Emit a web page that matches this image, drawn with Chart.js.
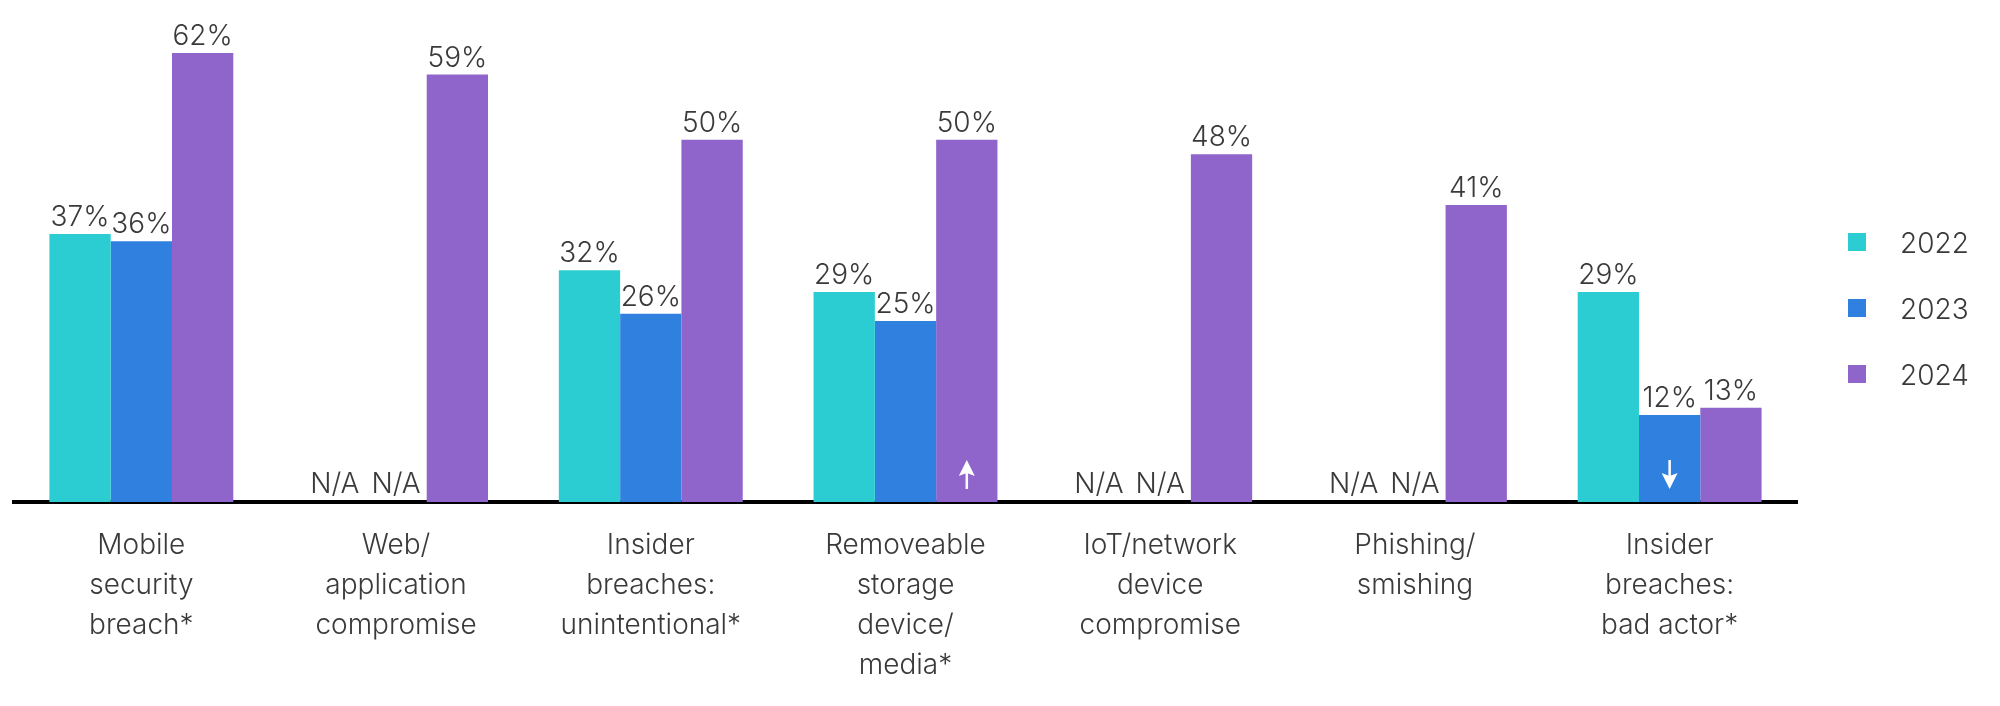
<!DOCTYPE html>
<html>
<head>
<meta charset="utf-8">
<script src="https://cdn.jsdelivr.net/npm/chart.js@4.4.1/dist/chart.umd.min.js"></script>
<style>
  html, body { margin: 0; padding: 0; background: #ffffff; }
  #wrap { width: 2000px; height: 706px; position: relative; }
</style>
</head>
<body>
<div id="wrap"><canvas id="c" width="2000" height="706"></canvas></div>
<script>
const categories = [
  ["Mobile", "security", "breach*"],
  ["Web/", "application", "compromise"],
  ["Insider", "breaches:", "unintentional*"],
  ["Removeable", "storage", "device/", "media*"],
  ["IoT/network", "device", "compromise"],
  ["Phishing/", "smishing"],
  ["Insider", "breaches:", "bad actor*"]
];
const seriesNames = ["2022", "2023", "2024"];
const values2022 = [37, null, 32, 29, null, null, 29];
const values2023 = [36, null, 26, 25, null, null, 12];
const values2024 = [62, 59, 50, 50, 48, 41, 13];
const seriesColors = ["#2ccdd2", "#3080e0", "#9065cb"];
// trend arrows: [categoryIndex, seriesIndex, direction]
const trendMarks = [[3, 2, "up"], [6, 1, "down"]];

const FONT = "Inter, 'Noto Sans', sans-serif";
const WEIGHT = "300";
const TEXT = "#3a3a3a";

const labelPlugin = {
  id: "valueLabels",
  afterDatasetsDraw(chart) {
    const ctx = chart.ctx;
    const base = chart.scales.y.getPixelForValue(0);
    ctx.save();
    ctx.font = WEIGHT + " 28px " + FONT;
    ctx.fillStyle = TEXT;
    ctx.textAlign = "center";
    ctx.textBaseline = "alphabetic";
    chart.data.datasets.forEach((ds, di) => {
      const meta = chart.getDatasetMeta(di);
      const ref = chart.getDatasetMeta(2).data[0];
      meta.data.forEach((bar, i) => {
        const v = ds.data[i];
        if (v === null || v === undefined) {
          const x = chart.scales.x.getPixelForValue(i) + (di - 1) * ref.width;
          ctx.fillText("N/A", x, base - 9);
        } else {
          ctx.fillText(v + "%", bar.x, bar.y - 8);
        }
      });
    });
    // arrows
    ctx.fillStyle = "#ffffff";
    ctx.strokeStyle = "#ffffff";
    ctx.lineWidth = 2.5;
    trendMarks.forEach(([ci, si, dir]) => {
      const bar = chart.getDatasetMeta(si).data[ci];
      const x = bar.x;
      const top = base - 42, bottom = base - 13;
      ctx.beginPath();
      if (dir === "up") {
        ctx.moveTo(x, bottom); ctx.lineTo(x, top + 10);
        ctx.stroke();
        ctx.beginPath();
        ctx.moveTo(x, top); ctx.lineTo(x - 8, top + 16); ctx.lineTo(x, top + 13); ctx.lineTo(x + 8, top + 16); ctx.closePath();
        ctx.fill();
      } else {
        ctx.moveTo(x, top); ctx.lineTo(x, bottom - 10);
        ctx.stroke();
        ctx.beginPath();
        ctx.moveTo(x, bottom); ctx.lineTo(x - 8, bottom - 16); ctx.lineTo(x, bottom - 13); ctx.lineTo(x + 8, bottom - 16); ctx.closePath();
        ctx.fill();
      }
    });
    ctx.restore();
  }
};

const legendPlugin = {
  id: "sideLegend",
  afterDraw(chart) {
    const ctx = chart.ctx;
    ctx.save();
    ctx.font = WEIGHT + " 28px " + FONT;
    ctx.textAlign = "left";
    ctx.textBaseline = "alphabetic";
    chart.data.datasets.forEach((ds, i) => {
      const cy = 242 + i * 66;
      ctx.fillStyle = ds.backgroundColor;
      ctx.fillRect(1848, cy - 9, 18, 18);
      ctx.fillStyle = TEXT;
      ctx.fillText(ds.label, 1900, cy + 11);
    });
    ctx.restore();
  }
};

new Chart(document.getElementById("c"), {
  type: "bar",
  data: {
    labels: categories,
    datasets: [
      { label: seriesNames[0], data: values2022, backgroundColor: seriesColors[0] },
      { label: seriesNames[1], data: values2023, backgroundColor: seriesColors[1] },
      { label: seriesNames[2], data: values2024, backgroundColor: seriesColors[2] }
    ]
  },
  options: {
    responsive: false,
    animation: false,
    devicePixelRatio: 1,
    layout: { padding: { left: 14, right: 203, top: 0, bottom: 0 } },
    datasets: { bar: { categoryPercentage: 0.722, barPercentage: 1.0, borderWidth: 0 } },
    plugins: { legend: { display: false }, tooltip: { enabled: false } },
    scales: {
      x: {
        grid: { display: false, drawTicks: false },
        border: { display: true, color: "#000000", width: 4 },
        ticks: { color: TEXT, font: { family: FONT, size: 28, weight: WEIGHT, lineHeight: 40 / 28 }, padding: 24, maxRotation: 0, autoSkip: false },
        afterFit(scale) { scale.height = 204; }
      },
      y: {
        display: false,
        min: 0,
        max: 69.3
      }
    }
  },
  plugins: [labelPlugin, legendPlugin]
});
</script>
</body>
</html>
